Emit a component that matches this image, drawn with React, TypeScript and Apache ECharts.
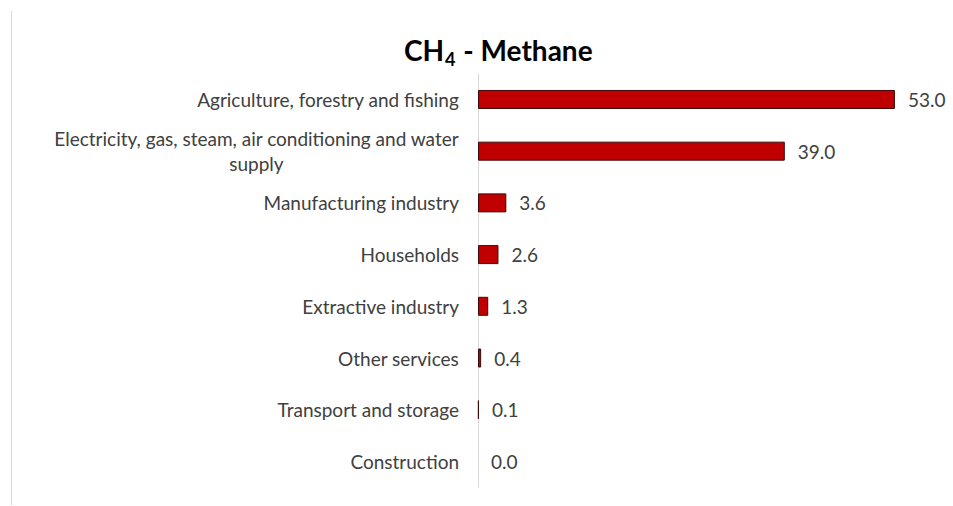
import React, { useEffect, useRef } from "react";
import * as echarts from "echarts";

const categories = [
  "Agriculture, forestry and fishing",
  "Electricity, gas, steam, air conditioning and water\nsupply",
  "Manufacturing industry",
  "Households",
  "Extractive industry",
  "Other services",
  "Transport and storage",
  "Construction",
];
const values = [53.0, 39.0, 3.6, 2.6, 1.3, 0.4, 0.1, 0.0];

const FONT = "Lato";

export default function App() {
  const ref = useRef<HTMLDivElement>(null);
  useEffect(() => {
    if (!ref.current) return;
    const chart = echarts.init(ref.current, undefined, { renderer: "svg" });
    chart.setOption({
      animation: false,
      backgroundColor: "#ffffff",
      title: {
        text: "{a|CH}{s|4}{a| - Methane}",
        left: 399,
        top: 27,
        textStyle: {
          rich: {
            a: { fontFamily: FONT, fontWeight: "bold", fontSize: 28, color: "#000000", lineHeight: 36 },
            s: { fontFamily: FONT, fontWeight: "bold", fontSize: 18, color: "#000000", padding: [18, 1, 0, 1], lineHeight: 22 },
          },
        },
      },
      graphic: [
        {
          type: "line",
          shape: { x1: 11.5, y1: 11, x2: 11.5, y2: 505 },
          style: { stroke: "#d9d9d9", lineWidth: 1 },
        },
      ],
      grid: { left: 478, right: 3, top: 73.6, bottom: 18.7, containLabel: false },
      xAxis: {
        type: "value",
        min: 0,
        max: 60,
        show: false,
        splitLine: { show: false },
      },
      yAxis: {
        type: "category",
        data: categories,
        inverse: true,
        axisLine: { show: true, lineStyle: { color: "#d9d9d9", width: 1 } },
        axisTick: { show: false },
        axisLabel: {
          margin: 19,
          color: "#404040",
          fontFamily: FONT,
          fontSize: 19,
          lineHeight: 25,
          formatter: (v: string) =>
            v
              .split("\n")
              .map((l) => "{c|" + l + "}")
              .join("\n"),
          rich: {
            c: { align: "center", fontFamily: FONT, fontSize: 19, color: "#404040", lineHeight: 25 },
          },
        },
      },
      series: [
        {
          type: "bar",
          data: values.map((v) =>
            v === 0 ? { value: v, itemStyle: { borderWidth: 0 } } : v
          ),
          barWidth: 19,
          itemStyle: { color: "#c00000", borderColor: "#3d0a0a", borderWidth: 1 },
          label: {
            show: true,
            position: "right",
            distance: 13,
            color: "#404040",
            fontFamily: FONT,
            fontSize: 19,
            formatter: (p: any) => Number(p.value).toFixed(1),
          },
        },
      ],
    });
    return () => chart.dispose();
  }, []);
  return (
    <div
      ref={ref}
      style={{ position: "fixed", left: 0, top: 0, width: 953, height: 506 }}
    />
  );
}
